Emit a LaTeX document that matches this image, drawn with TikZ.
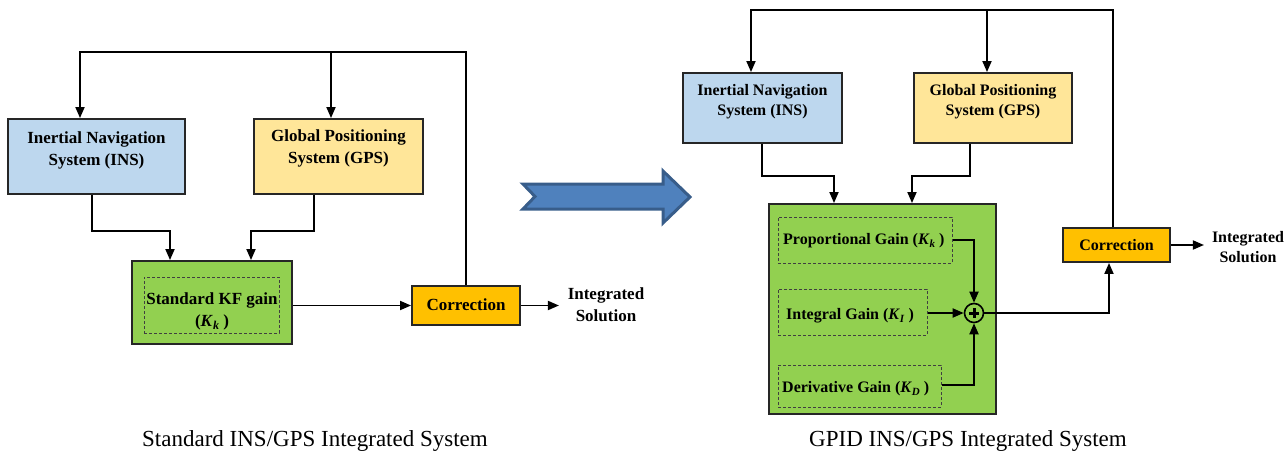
\documentclass[tikz,border=0pt]{standalone}
\usepackage{fontspec}
\setmainfont{Liberation Serif}
\usetikzlibrary{arrows.meta,calc}
\definecolor{insblue}{HTML}{BDD7EE}
\definecolor{gpsyel}{HTML}{FFE699}
\definecolor{kfgreen}{HTML}{92D050}
\definecolor{corrorg}{HTML}{FFC000}
\definecolor{arrfill}{HTML}{4F81BD}
\definecolor{arrline}{HTML}{385D8A}
\newcommand\Kx[2]{\textit{K}\raisebox{-0.35ex}{\fontsize{#2}{#2}\selectfont\textit{#1}}}
\begin{document}
\begin{tikzpicture}[x=1pt,y=-1pt,
  box/.style={draw=black!85, line width=1.9pt, inner sep=0pt},
  dbox/.style={draw=black!75, dash pattern=on 3pt off 2pt, line width=1pt, inner sep=0pt},
  conn/.style={line width=1.8pt, draw=black},
  arr/.style={conn, -{Triangle[length=11pt,width=9pt]}},
  lblL/.style={font=\bfseries\fontsize{17}{22}\selectfont, align=center, inner sep=0pt},
  lblR/.style={font=\bfseries\fontsize{16}{20}\selectfont, align=center, inner sep=0pt},
  captxt/.style={font=\fontsize{23}{26}\selectfont, inner sep=0pt, anchor=base}]

\useasboundingbox (0,0) rectangle (1286,452);

% ---------------- Left diagram ----------------
\node[box, fill=insblue, minimum width=177pt, minimum height=75pt] (insL) at (96.5,156.5) {};
\node[box, fill=gpsyel, minimum width=169pt, minimum height=75pt] (gpsL) at (338.5,156.5) {};
\node[box, fill=kfgreen, minimum width=160pt, minimum height=83pt] (kfL) at (212,302.5) {};
\node[dbox, minimum width=135pt, minimum height=56pt] (kfLd) at (211.5,305) {};
\node[box, fill=corrorg, minimum width=108pt, minimum height=39pt] (corrL) at (466,305.5) {};

\node[lblL] (insLt) at (96.5,150) {Inertial Navigation\\System (INS)};
\node[lblL] (gpsLt) at (338.5,148.5) {Global Positioning\\System (GPS)};
\node[lblL] (kfLt) at (212,311.5) {Standard KF gain\\(\Kx{k}{12} )};
\node[lblL] (corrLt) at (466,305) {Correction};
\node[lblL] (outLt) at (606,305) {Integrated\\Solution};

\coordinate (tL1) at (80,52);
\coordinate (tL2) at (331,52);
\coordinate (tL3) at (466,52);
\draw[arr] (corrL.north) -- (tL3) -- (tL1) -- (tL1 |- insL.north);
\draw[arr] (tL2) -- (tL2 |- gpsL.north);
\draw[arr] ([xshift=-4.5pt]insL.south) -- ++(0,36) -| ([xshift=-42pt]kfL.north);
\draw[arr] ([xshift=-24.5pt]gpsL.south) -- ++(0,36) -| ([xshift=39pt]kfL.north);
\draw[arr] (kfL.east |- corrL.west) -- (corrL.west);
\draw[arr] (corrL.east) -- ++(38,0) coordinate (outL);

\node[captxt] (capL) at (315,446) {Standard INS/GPS Integrated System};

% ---------------- Transition arrow ----------------
\draw[fill=arrfill, draw=arrline, line width=3pt, line join=miter]
  (523,184) -- (663,184) -- (663,171) -- (690,197) -- (663,223) -- (663,209)
  -- (523,209) -- (535,196.5) -- cycle;

% ---------------- Right diagram ----------------
\node[box, fill=insblue, minimum width=159pt, minimum height=70pt] (insR) at (762.5,108) {};
\node[box, fill=gpsyel, minimum width=158pt, minimum height=70pt] (gpsR) at (993,108) {};
\node[box, fill=kfgreen, minimum width=227pt, minimum height=210pt] (gid) at (882.5,309) {};
\node[dbox, minimum width=174pt, minimum height=46pt] (dP) at (865,240) {};
\node[dbox, minimum width=149pt, minimum height=46pt] (dI) at (852.5,312) {};
\node[dbox, minimum width=163pt, minimum height=42pt] (dD) at (859.5,386) {};
\node[circle, draw=black, line width=1.6pt, minimum size=19pt, inner sep=0pt] (sum) at (974,313) {};
\draw[line width=3pt] ($(sum.center)+(-5,0)$) -- ($(sum.center)+(5,0)$);
\draw[line width=3pt] ($(sum.center)+(0,-5)$) -- ($(sum.center)+(0,5)$);
\node[box, fill=corrorg, minimum width=107pt, minimum height=34pt] (corrR) at (1116.5,245) {};

\node[lblR] (insRt) at (762.5,102) {Inertial Navigation\\System (INS)};
\node[lblR] (gpsRt) at (993,102) {Global Positioning\\System (GPS)};
\node[lblR, anchor=west] (dPt) at (783,241) {Proportional Gain (\Kx{k}{11} )};
\node[lblR, anchor=west] (dIt) at (786,316) {Integral Gain (\Kx{I}{11} )};
\node[lblR, anchor=west] (dDt) at (782,389) {Derivative Gain (\Kx{D}{11} )};
\node[lblR] (corrRt) at (1116.5,245) {Correction};
\node[lblR] (outRt) at (1248,247) {Integrated\\Solution};

\coordinate (tR1) at (751,10);
\coordinate (tR2) at (987,10);
\coordinate (tR3) at (1113,10);
\draw[arr] ([xshift=-3.5pt]corrR.north) -- (tR3) -- (tR1) -- (tR1 |- insR.north);
\draw[arr] (tR2) -- (tR2 |- gpsR.north);
\draw[arr] ([xshift=-0.5pt]insR.south) -- ++(0,32) -| ([xshift=-48.5pt]gid.north);
\draw[arr] ([xshift=-23pt]gpsR.south) -- ++(0,32) -| ([xshift=29.5pt]gid.north);
\draw[arr] (dP.east) -| (sum.north);
\draw[arr] (dI.east |- sum.west) -- (sum.west);
\draw[arr] ([yshift=1pt]dD.east) -| (sum.south);
\draw[arr] (sum.east) -| ([xshift=-7.5pt]corrR.south);
\draw[arr] (corrR.east) -- ++(33,0) coordinate (outR);

\node[captxt] (capR) at (968,446) {GPID INS/GPS Integrated System};
\end{tikzpicture}
\end{document}
